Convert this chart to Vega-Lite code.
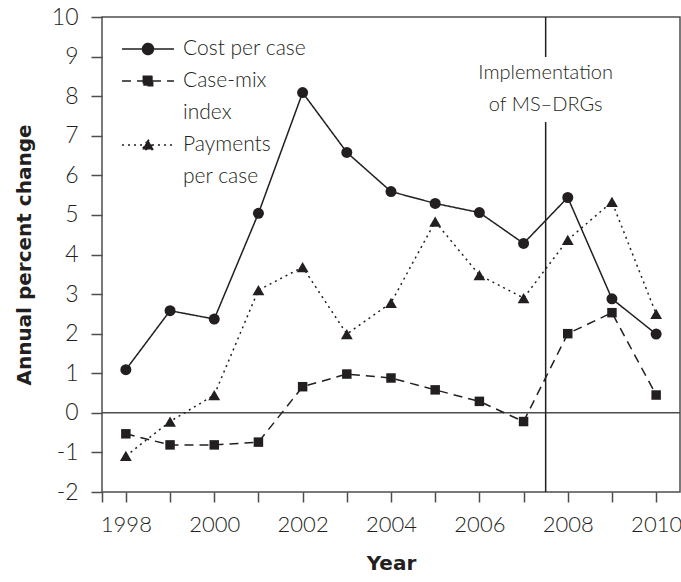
{
  "$schema": "https://vega.github.io/schema/vega-lite/v6.json",
  "width": 578,
  "height": 475,
  "autosize": {"type": "none"},
  "padding": {"left": 102, "top": 17, "right": 1, "bottom": 90},
  "background": "white",
  "config": {
    "view": {"stroke": "#4d4d4d", "strokeWidth": 1.5},
    "font": "Lato"
  },
  "datasets": {
    "series": [
      {"year": 1998, "series": "Cost per case", "value": 1.09},
      {"year": 1999, "series": "Cost per case", "value": 2.58},
      {"year": 2000, "series": "Cost per case", "value": 2.37},
      {"year": 2001, "series": "Cost per case", "value": 5.04},
      {"year": 2002, "series": "Cost per case", "value": 8.09},
      {"year": 2003, "series": "Cost per case", "value": 6.58},
      {"year": 2004, "series": "Cost per case", "value": 5.59},
      {"year": 2005, "series": "Cost per case", "value": 5.29},
      {"year": 2006, "series": "Cost per case", "value": 5.06},
      {"year": 2007, "series": "Cost per case", "value": 4.28},
      {"year": 2008, "series": "Cost per case", "value": 5.44},
      {"year": 2009, "series": "Cost per case", "value": 2.88},
      {"year": 2010, "series": "Cost per case", "value": 1.99},
      {"year": 1998, "series": "Case-mix index", "value": -0.53},
      {"year": 1999, "series": "Case-mix index", "value": -0.81},
      {"year": 2000, "series": "Case-mix index", "value": -0.81},
      {"year": 2001, "series": "Case-mix index", "value": -0.74},
      {"year": 2002, "series": "Case-mix index", "value": 0.66},
      {"year": 2003, "series": "Case-mix index", "value": 0.98},
      {"year": 2004, "series": "Case-mix index", "value": 0.88},
      {"year": 2005, "series": "Case-mix index", "value": 0.58},
      {"year": 2006, "series": "Case-mix index", "value": 0.29},
      {"year": 2007, "series": "Case-mix index", "value": -0.22},
      {"year": 2008, "series": "Case-mix index", "value": 2.0},
      {"year": 2009, "series": "Case-mix index", "value": 2.53},
      {"year": 2010, "series": "Case-mix index", "value": 0.45},
      {"year": 1998, "series": "Payments per case", "value": -1.09},
      {"year": 1999, "series": "Payments per case", "value": -0.22},
      {"year": 2000, "series": "Payments per case", "value": 0.45},
      {"year": 2001, "series": "Payments per case", "value": 3.1},
      {"year": 2002, "series": "Payments per case", "value": 3.68},
      {"year": 2003, "series": "Payments per case", "value": 1.99},
      {"year": 2004, "series": "Payments per case", "value": 2.78},
      {"year": 2005, "series": "Payments per case", "value": 4.83},
      {"year": 2006, "series": "Payments per case", "value": 3.48},
      {"year": 2007, "series": "Payments per case", "value": 2.9},
      {"year": 2008, "series": "Payments per case", "value": 4.37},
      {"year": 2009, "series": "Payments per case", "value": 5.33},
      {"year": 2010, "series": "Payments per case", "value": 2.5}
    ],
    "vline": [
      {"x": 2007.5, "y": -2, "y2": 7.35},
      {"x": 2007.5, "y": 8.99, "y2": 10}
    ],
    "notes": [
      {"x": 2007.5, "y": 8.59, "t": "Implementation"},
      {"x": 2007.5, "y": 7.78, "t": "of MS–DRGs"}
    ],
    "zero": [{"y": 0}]
  },
  "encoding": {
    "x": {
      "field": "year",
      "type": "quantitative",
      "scale": {"domain": [1997.46, 2010.54], "nice": false, "zero": false},
      "axis": {
        "values": [1997.46, 1998, 1999, 2000, 2001, 2002, 2003, 2004, 2005, 2006, 2007, 2008, 2009, 2010],
        "format": "d",
        "labelExpr": "datum.value % 2 === 0 ? datum.label : ''",
        "domain": false,
        "grid": false,
        "tickSize": 10,
        "tickWidth": 1.5,
        "tickColor": "#4d4d4d",
        "labelFont": "Lato",
        "labelFontWeight": 300,
        "labelFontSize": 22,
        "labelColor": "#231f20",
        "labelPadding": 12,
        "labelFlush": false,
        "labelOverlap": false,
        "title": "Year",
        "titleFont": "DejaVu Sans",
        "titleFontWeight": "bold",
        "titleFontSize": 20,
        "titleColor": "#231f20",
        "titlePadding": 18
      }
    },
    "y": {
      "field": "value",
      "type": "quantitative",
      "scale": {"domain": [-2, 10], "nice": false, "zero": false},
      "axis": {
        "values": [-2, -1, 0, 1, 2, 3, 4, 5, 6, 7, 8, 9, 10],
        "labelExpr": "'' + datum.value",
        "domain": false,
        "grid": false,
        "tickSize": 11,
        "tickWidth": 1.5,
        "tickColor": "#4d4d4d",
        "labelFont": "Lato",
        "labelFontWeight": 300,
        "labelFontSize": 23,
        "labelColor": "#231f20",
        "labelPadding": 13,
        "labelFlush": false,
        "labelOverlap": false,
        "title": "Annual percent change",
        "titleFont": "DejaVu Sans",
        "titleFontWeight": "bold",
        "titleFontSize": 20,
        "titleColor": "#231f20",
        "titlePadding": 17
      }
    }
  },
  "layer": [
    {
      "data": {"name": "zero"},
      "mark": {"type": "rule", "color": "#4d4d4d", "strokeWidth": 1.5},
      "encoding": {"y": {"field": "y", "type": "quantitative"}, "x": null}
    },
    {
      "data": {"name": "vline"},
      "mark": {"type": "rule", "color": "#231f20", "strokeWidth": 1.5},
      "encoding": {
        "x": {"field": "x", "type": "quantitative"},
        "y": {"field": "y", "type": "quantitative"},
        "y2": {"field": "y2"}
      }
    },
    {
      "data": {"name": "series"},
      "mark": {"type": "line", "color": "#231f20", "strokeWidth": 1.5},
      "encoding": {
        "strokeDash": {
          "field": "series",
          "type": "nominal",
          "sort": ["Cost per case", "Case-mix index", "Payments per case"],
          "scale": {
            "domain": ["Cost per case", "Case-mix index", "Payments per case"],
            "range": [[1, 0], [9, 6], [2, 4]]
          },
          "legend": {
            "title": null,
            "orient": "none",
            "legendX": 20,
            "legendY": 19,
            "padding": 0,
            "symbolSize": 576,
            "symbolOffset": 13,
            "symbolStrokeWidth": 1.5,
            "symbolStrokeColor": "#231f20",
            "labelOffset": 22,
            "labelFont": "Lato",
            "labelFontWeight": 300,
            "labelFontSize": 21,
            "labelColor": "#231f20",
            "labelLimit": 400,
            "rowPadding": 9,
            "labelExpr": "datum.label == 'Case-mix index' ? ['Case-mix', 'index'] : datum.label == 'Payments per case' ? ['Payments', 'per case'] : datum.label",
            "encode": {
              "symbols": {
                "update": {
                  "shape": {"signal": "datum.value === 'Cost per case' ? 'M-2.1667,0H2.1667M0.458,0A0.458,0.458,0,1,1,-0.458,0A0.458,0.458,0,1,1,0.458,0Z' : datum.value === 'Case-mix index' ? 'M-2.1667,0H2.1667M-0.39,-0.39H0.39V0.39H-0.39Z' : 'M-2.1667,0H2.1667M0,-0.458L0.477,0.367H-0.477Z'"},
                  "fill": {"value": "#231f20"},
                  "stroke": {"value": "#231f20"}
                }
              },
              "labels": {
                "update": {"lineHeight": {"value": 31.5}}
              }
            }
          }
        }
      }
    },
    {
      "data": {"name": "series"},
      "transform": [{"filter": "datum.series === 'Cost per case'"}],
      "mark": {"type": "point", "shape": "circle", "filled": true, "opacity": 1, "color": "#231f20", "size": 121}
    },
    {
      "data": {"name": "series"},
      "transform": [{"filter": "datum.series === 'Case-mix index'"}],
      "mark": {"type": "point", "shape": "square", "filled": true, "opacity": 1, "color": "#231f20", "size": 90}
    },
    {
      "data": {"name": "series"},
      "transform": [{"filter": "datum.series === 'Payments per case'"}],
      "mark": {"type": "point", "shape": "triangle-up", "filled": true, "opacity": 1, "color": "#231f20", "size": 140}
    },
    {
      "data": {"name": "notes"},
      "mark": {"type": "text", "font": "Lato", "fontWeight": 300, "fontSize": 20, "color": "#231f20", "align": "center", "baseline": "middle"},
      "encoding": {
        "x": {"field": "x", "type": "quantitative"},
        "y": {"field": "y", "type": "quantitative"},
        "text": {"field": "t"}
      }
    }
  ]
}
